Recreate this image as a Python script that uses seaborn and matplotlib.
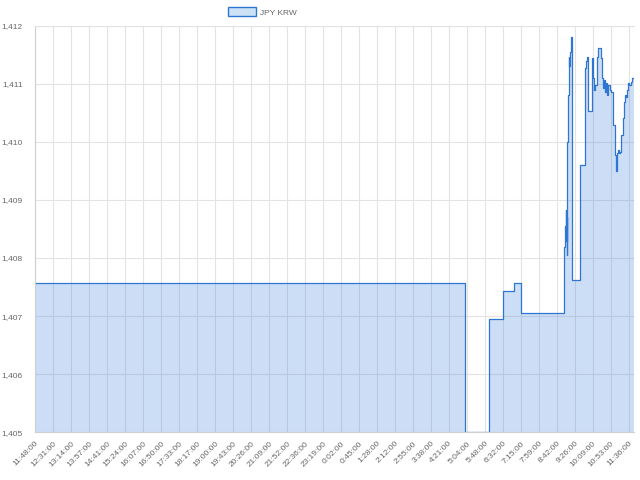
import matplotlib
matplotlib.use('Agg')
import matplotlib.pyplot as plt
import seaborn as sns
from matplotlib.patches import Patch
from matplotlib.ticker import FuncFormatter

# minute index (one category per row of data) and JPY KRW rate at each change
minute_idx = [0, 1027, 1086, 1119, 1146, 1161,
              1265, 1267, 1269, 1270, 1271, 1272, 1273, 1275, 1276, 1277, 1279, 1282, 1283,
              1284, 1304, 1315, 1317, 1320, 1323, 1331, 1334, 1336,
              1339, 1343, 1347, 1351, 1353, 1355, 1358, 1361, 1363, 1366, 1367, 1370,
              1374, 1377, 1381, 1383, 1386, 1387, 1389, 1391, 1393, 1396, 1399, 1402,
              1405, 1408, 1410, 1413, 1415, 1418, 1421, 1424, 1428, 1432]
rate = [1407.57, 1405.00, 1406.95, 1407.43, 1407.57, 1407.06,
        1408.19, 1408.55, 1408.83, 1408.30, 1408.70, 1408.05, 1410.00, 1410.80, 1411.46, 1411.30, 1411.55, 1411.81, 1411.60,
        1407.62, 1409.60, 1411.27, 1411.40, 1411.46, 1410.53, 1411.44, 1411.10, 1410.89,
        1410.98, 1411.46, 1411.61, 1411.61, 1411.44, 1411.10, 1410.92, 1411.06, 1410.86, 1411.01, 1410.80, 1410.98,
        1410.89, 1410.86, 1410.86, 1410.29, 1409.94, 1409.77, 1409.50, 1409.81, 1409.86, 1409.81, 1409.83, 1410.12,
        1410.41, 1410.69, 1410.80, 1410.78, 1410.89, 1411.01, 1410.98, 1411.03, 1411.10, 1411.12]

tick_labels = ['11:48:00', '12:31:00', '13:14:00', '13:57:00', '14:41:00', '15:24:00',
               '16:07:00', '16:50:00', '17:33:00', '18:17:00', '19:00:00', '19:43:00',
               '20:26:00', '21:09:00', '21:52:00', '22:36:00', '23:19:00', '0:02:00',
               '0:45:00', '1:28:00', '2:12:00', '2:55:00', '3:38:00', '4:21:00',
               '5:04:00', '5:48:00', '6:32:00', '7:15:00', '7:59:00', '8:42:00',
               '9:26:00', '10:09:00', '10:53:00', '11:36:00']
tick_step = 43  # every 43rd category gets a label

line_color = '#2f76d2'
fill_rgba = (0.21, 0.49, 0.85, 0.25)
legend_fill = '#cde1f5'
grid_color = '#e3e3e3'
text_color = '#666666'

sns.set_style('white')
plt.rcParams['font.family'] = ['Liberation Sans', 'DejaVu Sans']

fig = plt.figure(figsize=(6.4, 4.8), dpi=100)
ax = fig.add_axes([0.055, 0.0994, 0.9356, 0.8471])

ax.grid(True, color=grid_color, lw=0.8, zorder=0)
ax.set_axisbelow(True)

ax.fill_between(minute_idx, rate, 1405, step='post', color=fill_rgba, lw=0, zorder=1)
sns.lineplot(x=minute_idx, y=rate, drawstyle='steps-post', color=line_color,
             lw=0.9, ax=ax, zorder=2)

ax.set_xlim(0, 1432)
ax.set_ylim(1405, 1412)

ax.set_xticks([i * tick_step for i in range(len(tick_labels))])
ax.set_xticklabels(tick_labels, rotation=45, ha='right', rotation_mode='anchor')
ax.set_yticks(range(1405, 1413))
ax.yaxis.set_major_formatter(FuncFormatter(lambda v, p: f'{int(v):,}'))

ax.tick_params(axis='both', colors=grid_color, labelcolor=text_color,
               labelsize=6.0, length=4, width=0.8)
ax.tick_params(axis='x', pad=1.5)
ax.tick_params(axis='y', pad=5)

for side in ['left', 'bottom']:
    ax.spines[side].set_color('#cfcfcf')
    ax.spines[side].set_linewidth(0.8)
ax.spines['top'].set_color(grid_color)
ax.spines['top'].set_linewidth(0.8)
ax.spines['right'].set_visible(False)

ax.set_xlabel('')
ax.set_ylabel('')

handle = Patch(facecolor=legend_fill, edgecolor=line_color, lw=1)
fig.legend([handle], ['JPY KRW'], loc='center left',
           bbox_to_anchor=(228 / 640, 1 - 12 / 480), frameon=False,
           fontsize=6.0, labelcolor=text_color, handlelength=3.3,
           handleheight=1.25, handletextpad=0.5, borderpad=0, borderaxespad=0)

fig.savefig('out.png', dpi=100)
